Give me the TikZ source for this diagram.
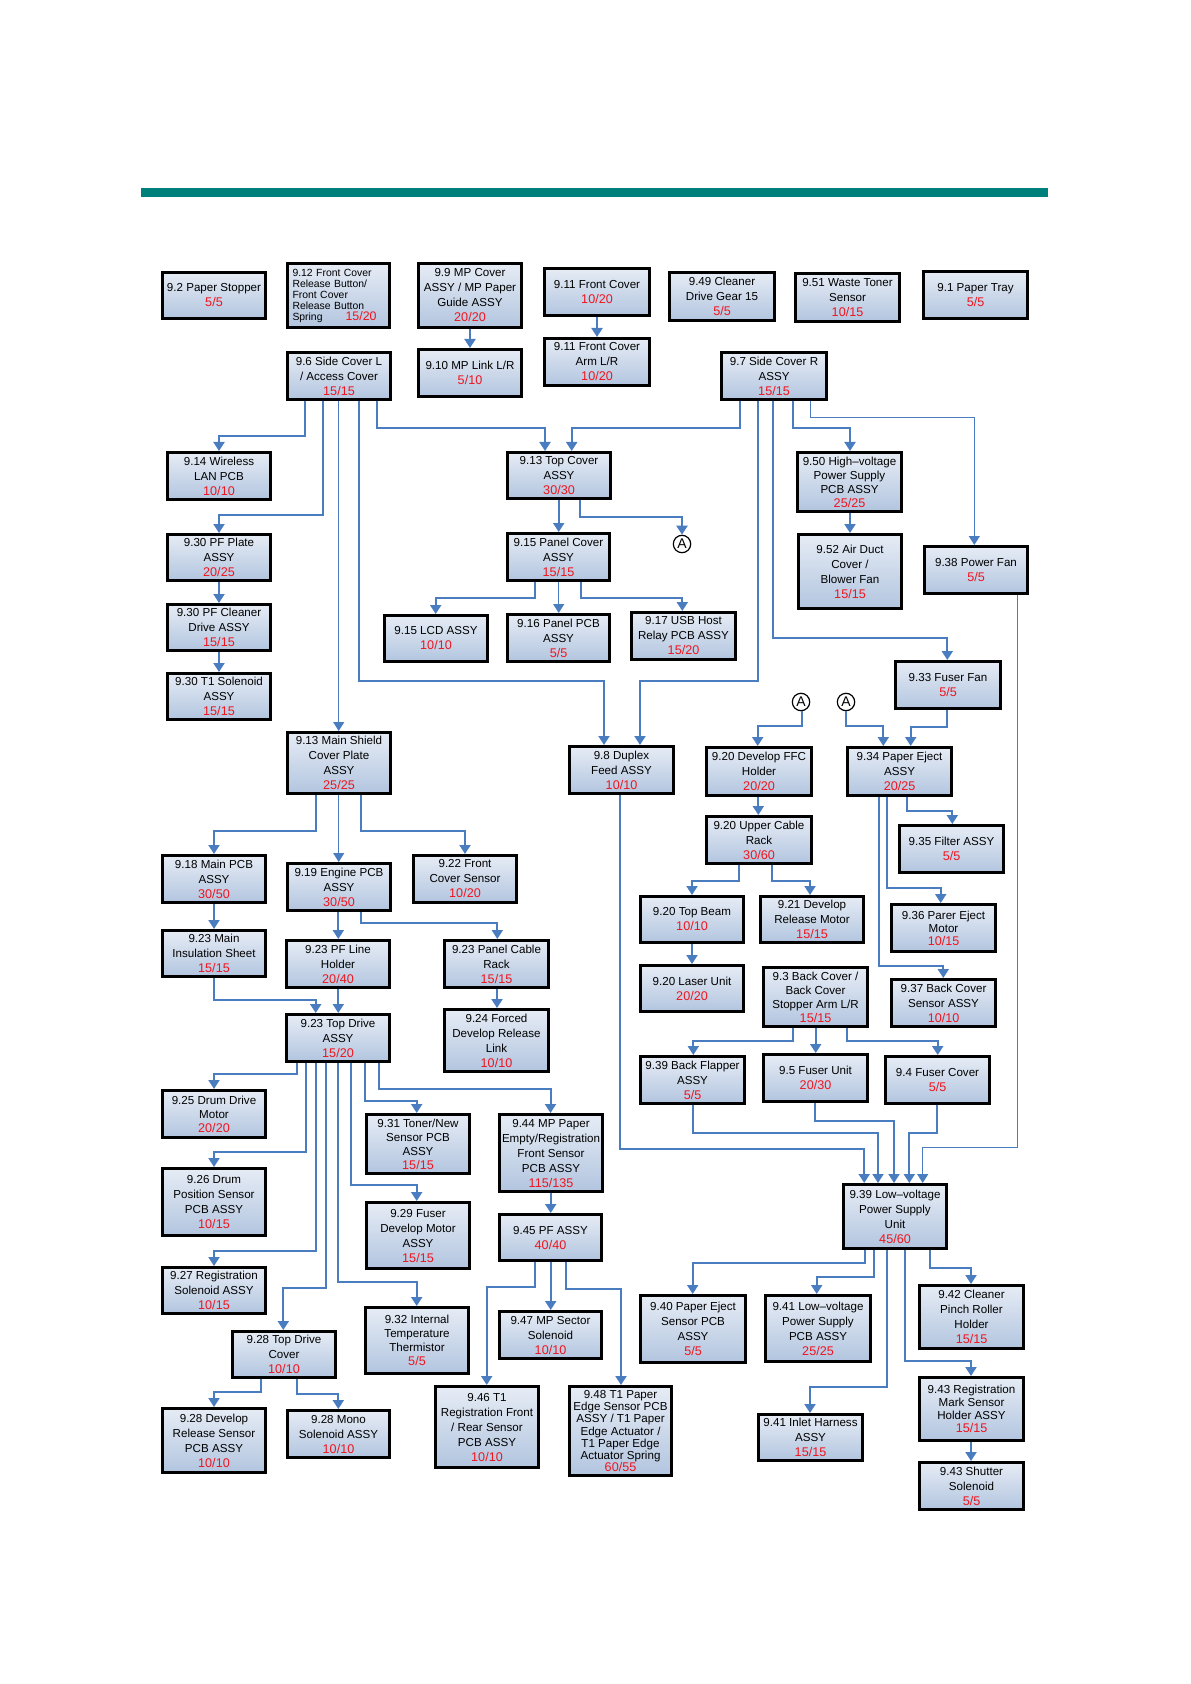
\documentclass[tikz,border=0pt]{standalone}
\usepackage{fontspec}
\setmainfont{Liberation Sans}
\usetikzlibrary{arrows.meta}
\definecolor{lineblue}{RGB}{74,124,192}
\definecolor{numred}{RGB}{240,20,30}
\definecolor{barteal}{RGB}{0,128,122}
\definecolor{boxtop}{RGB}{230,236,245}
\definecolor{boxbot}{RGB}{178,197,223}
\newcommand\abox[8][7.5]{%
  \pgfmathsetmacro\bxcx{(#3+#5)/2}%
  \pgfmathsetmacro\bxcy{(#4+#6)/2}%
  \pgfmathsetmacro\bxww{(#5-#3)*0.5-1.5}%
  \pgfmathsetmacro\bxhh{(#6-#4)*0.5-1.5}%
  \node[pbox, minimum width=\bxww pt, minimum height=\bxhh pt,
        font=\fontsize{5.8}{#1}\selectfont] (#2) at (\bxcx,\bxcy)
        {#7\\\textcolor{numred}{\fontsize{6.3}{#1}\selectfont #8}};}
\newcommand\vconn[4][]{\draw[cn,#1] (#2.south -| #3,0) -- (#4.north -| #3,0);}
\newcommand\hconn[6][]{\draw[cn,#1] (#2.south -| #3,0) |- (#5,#4) -- (#6.north -| #5,0);}
\begin{document}
\begin{tikzpicture}[x=0.5pt,y=-0.5pt,
  pbox/.style={draw=black, line width=1.5pt, top color=boxtop, bottom color=boxbot,
               inner sep=0pt, align=center, text=black},
  cn/.style={draw=lineblue, line width=1pt, -{Triangle[width=5.5pt,length=4.5pt]}},
  thinln/.style={line width=0.6pt},
  circA/.style={circle, draw=black, line width=0.6pt, minimum size=8.7pt, inner sep=0pt,
                font=\fontsize{7}{7}\selectfont}]
\useasboundingbox (0,0) rectangle (1190,1684);
\fill[barteal] (141,188) rectangle (1048,197);

% ---- boxes ----
\abox{n92}{161}{271}{267}{320}{9.2 Paper Stopper}{5/5}
\node[pbox, minimum width=51pt, minimum height=32pt, text width=46pt, align=left,
      font=\fontsize{5.2}{5.5}\selectfont] (n912) at (338.5,295.5)
  {9.12 Front Cover\\Release Button/\\Front Cover\\Release Button\\Spring\hspace{11.5pt}\textcolor{numred}{\fontsize{6.2}{5.5}\selectfont 15/20}};
\abox{n99}{417}{262}{523}{329}{9.9 MP Cover\\ASSY / MP Paper\\Guide ASSY}{20/20}
\abox{n911}{543}{267}{651}{317}{9.11 Front Cover}{10/20}
\abox{n911a}{543}{337}{651}{387}{9.11 Front Cover\\Arm L/R}{10/20}
\abox{n949}{668}{271}{776}{322}{9.49 Cleaner\\Drive Gear 15}{5/5}
\abox{n951}{794}{272}{901}{323}{9.51 Waste Toner\\Sensor}{10/15}
\abox{n91}{922}{270}{1029}{320}{9.1 Paper Tray}{5/5}
\abox{n96}{286}{351}{392}{401}{9.6 Side Cover L\\/ Access Cover}{15/15}
\abox{n910}{417}{348}{523}{398}{9.10 MP Link L/R}{5/10}
\abox{n97}{720}{351}{828}{401}{9.7 Side Cover R\\ASSY}{15/15}
\abox{n914}{166}{451}{272}{501}{9.14 Wireless\\LAN PCB}{10/10}
\abox{n913}{506}{451}{612}{500}{9.13 Top Cover\\ASSY}{30/30}
\abox[7]{n950}{796}{451}{903}{513}{9.50 High–voltage\\Power Supply\\PCB ASSY}{25/25}
\abox{n930p}{166}{533}{272}{582}{9.30 PF Plate\\ASSY}{20/25}
\abox{n915}{506}{532}{611}{582}{9.15 Panel Cover\\ASSY}{15/15}
\abox{n952}{797}{533}{903}{610}{9.52 Air Duct\\Cover /\\Blower Fan}{15/15}
\abox{n938}{923}{545}{1029}{595}{9.38 Power Fan}{5/5}
\abox{n930c}{166}{603}{272}{652}{9.30 PF Cleaner\\Drive ASSY}{15/15}
\abox{n915l}{383}{614}{489}{663}{9.15 LCD ASSY}{10/10}
\abox{n916}{506}{613}{611}{663}{9.16 Panel PCB\\ASSY}{5/5}
\abox{n917}{630}{611}{737}{661}{9.17 USB Host\\Relay PCB ASSY}{15/20}
\abox{n933}{894}{660}{1002}{710}{9.33 Fuser Fan}{5/5}
\abox{n930t}{166}{672}{272}{721}{9.30 T1 Solenoid\\ASSY}{15/15}
\abox{n913m}{286}{731}{392}{795}{9.13 Main Shield\\Cover Plate\\ASSY}{25/25}
\abox{n98}{568}{745}{675}{795}{9.8 Duplex\\Feed ASSY}{10/10}
\abox{n920f}{705}{746}{813}{797}{9.20 Develop FFC\\Holder}{20/20}
\abox{n934}{846}{746}{953}{797}{9.34 Paper Eject\\ASSY}{20/25}
\abox{n920u}{705}{815}{813}{865}{9.20 Upper Cable\\Rack}{30/60}
\abox{n935}{898}{824}{1005}{874}{9.35 Filter ASSY}{5/5}
\abox{n918}{161}{854}{267}{904}{9.18 Main PCB\\ASSY}{30/50}
\abox{n919}{286}{862}{392}{912}{9.19 Engine PCB\\ASSY}{30/50}
\abox{n922}{412}{854}{518}{904}{9.22 Front\\Cover Sensor}{10/20}
\abox{n920b}{639}{895}{745}{944}{9.20 Top Beam}{10/10}
\abox{n921}{759}{895}{865}{944}{9.21 Develop\\Release Motor}{15/15}
\abox[6.5]{n936}{890}{903}{997}{953}{9.36 Parer Eject\\Motor}{10/15}
\abox{n923m}{161}{929}{267}{978}{9.23 Main\\Insulation Sheet}{15/15}
\abox{n923pf}{285}{939}{391}{989}{9.23 PF Line\\Holder}{20/40}
\abox{n923pc}{443}{939}{550}{989}{9.23 Panel Cable\\Rack}{15/15}
\abox{n920l}{639}{964}{745}{1013}{9.20 Laser Unit}{20/20}
\abox[7]{n93}{762}{966}{869}{1028}{9.3 Back Cover /\\Back Cover\\Stopper Arm L/R}{15/15}
\abox{n937}{890}{978}{997}{1028}{9.37 Back Cover\\Sensor ASSY}{10/10}
\abox{n923t}{285}{1013}{391}{1063}{9.23 Top Drive\\ASSY}{15/20}
\abox{n924}{443}{1008}{550}{1073}{9.24 Forced\\Develop Release\\Link}{10/10}
\abox{n939b}{639}{1055}{746}{1105}{9.39 Back Flapper\\ASSY}{5/5}
\abox{n95}{762}{1053}{869}{1103}{9.5 Fuser Unit}{20/30}
\abox{n94}{884}{1055}{991}{1105}{9.4 Fuser Cover}{5/5}
\abox[7]{n925}{161}{1089}{267}{1139}{9.25 Drum Drive\\Motor}{20/20}
\abox[7]{n931}{365}{1113}{471}{1175}{9.31 Toner/New\\Sensor PCB\\ASSY}{15/15}
\abox{n944}{498}{1113}{604}{1193}{9.44 MP Paper\\Empty/Registration\\Front Sensor\\PCB ASSY}{115/135}
\abox{n926}{161}{1167}{267}{1237}{9.26 Drum\\Position Sensor\\PCB ASSY}{10/15}
\abox{n939}{842}{1183}{948}{1250}{9.39 Low–voltage\\Power Supply\\Unit}{45/60}
\abox{n929}{365}{1201}{471}{1270}{9.29 Fuser\\Develop Motor\\ASSY}{15/15}
\abox{n945}{498}{1213}{603}{1262}{9.45 PF ASSY}{40/40}
\abox{n927}{161}{1266}{267}{1315}{9.27 Registration\\Solenoid ASSY}{10/15}
\abox{n942}{918}{1284}{1025}{1350}{9.42 Cleaner\\Pinch Roller\\Holder}{15/15}
\abox{n940}{639}{1294}{747}{1364}{9.40 Paper Eject\\Sensor PCB\\ASSY}{5/5}
\abox{n941}{764}{1294}{872}{1363}{9.41 Low–voltage\\Power Supply\\PCB ASSY}{25/25}
\abox[7]{n932}{364}{1306}{470}{1375}{9.32 Internal\\Temperature\\Thermistor}{5/5}
\abox{n947}{498}{1310}{603}{1360}{9.47 MP Sector\\Solenoid}{10/10}
\abox{n928t}{231}{1330}{337}{1379}{9.28 Top Drive\\Cover}{10/10}
\abox[6.5]{n943r}{918}{1376}{1025}{1442}{9.43 Registration\\Mark Sensor\\Holder ASSY}{15/15}
\abox{n946}{434}{1385}{540}{1469}{9.46 T1\\Registration Front\\/ Rear Sensor\\PCB ASSY}{10/10}
\abox[6.1]{n948}{568}{1385}{673}{1477}{9.48 T1 Paper\\Edge Sensor PCB\\ASSY / T1 Paper\\Edge Actuator /\\T1 Paper Edge\\Actuator Spring}{60/55}
\abox{n928d}{161}{1407}{267}{1474}{9.28 Develop\\Release Sensor\\PCB ASSY}{10/10}
\abox{n928m}{286}{1409}{391}{1459}{9.28 Mono\\Solenoid ASSY}{10/10}
\abox{n941i}{757}{1413}{864}{1462}{9.41 Inlet Harness\\ASSY}{15/15}
\abox{n943s}{918}{1461}{1025}{1511}{9.43 Shutter\\Solenoid}{5/5}

% ---- circled A markers ----
\node[circA] (cA1) at (682,544) {A};
\node[circA] (cA2) at (801,702) {A};
\node[circA] (cA3) at (846,702) {A};

% ---- connectors ----
\vconn{n99}{470}{n910}
\vconn{n911}{597}{n911a}
\hconn{n96}{305}{436}{219}{n914}
\hconn{n96}{322.7}{515}{219}{n930p}
\vconn[thinln]{n96}{338.7}{n913m}
\hconn{n96}{359}{681}{604}{n98}
\hconn{n96}{377}{428.3}{545}{n913}
\hconn{n97}{740}{428.3}{571.7}{n913}
\hconn{n97}{758}{681}{640}{n98}
\hconn{n97}{772.7}{638.3}{947.3}{n933}
\hconn{n97}{792.7}{428.3}{850}{n950}
\hconn[thinln]{n97}{810.7}{417.7}{974.3}{n938}
\vconn{n950}{850}{n952}
\vconn{n913}{558.7}{n915}
\hconn{n913}{580}{517.3}{682}{cA1}
\hconn{n915}{535}{598.3}{435.7}{n915l}
\vconn[thinln]{n915}{558.7}{n916}
\hconn{n915}{580.7}{598.3}{682.3}{n917}
\hconn{n913m}{316}{830.7}{214}{n918}
\vconn[thinln]{n913m}{338.7}{n919}
\hconn{n913m}{360.7}{830.7}{465}{n922}
\vconn{n918}{214}{n923m}
\vconn{n919}{338.3}{n923pf}
\hconn{n919}{360.7}{922.7}{497.3}{n923pc}
\vconn{n923pc}{497}{n924}
\hconn{n923m}{214}{1000}{315.7}{n923t}
\vconn{n923pf}{338.3}{n923t}
\hconn{n923t}{297.3}{1074.3}{214}{n925}
\hconn{n923t}{306}{1151.5}{214}{n926}
\hconn{n923t}{315.7}{1251.3}{214}{n927}
\hconn{n923t}{326}{1287.5}{283.3}{n928t}
\hconn{n923t}{338.3}{1281.7}{416.7}{n932}
\hconn{n923t}{350.7}{1184.5}{416.7}{n929}
\hconn{n923t}{365.3}{1101}{416.7}{n931}
\hconn{n923t}{379}{1088.5}{550.5}{n944}
\vconn{n944}{550.7}{n945}
\hconn{n945}{535}{1286.7}{486.7}{n946}
\vconn{n945}{550.7}{n947}
\hconn{n945}{566}{1288.8}{621}{n948}
\hconn{n928t}{260.7}{1392.3}{214}{n928d}
\hconn{n928t}{297.3}{1394.3}{338.3}{n928m}
\vconn{n930p}{219}{n930c}
\vconn{n930c}{219}{n930t}
\hconn{cA2}{802}{726}{757.7}{n920f}
\hconn{cA3}{846.3}{726}{883.3}{n934}
\hconn{n933}{947.3}{727.3}{910.7}{n934}
\vconn{n920f}{758.3}{n920u}
\hconn{n920u}{739}{881}{692}{n920b}
\hconn{n920u}{771.7}{881}{810}{n921}
\vconn{n920b}{692}{n920l}
\hconn{n93}{793}{1040.7}{693.3}{n939b}
\vconn{n93}{815.7}{n95}
\hconn{n93}{847}{1040.7}{937.7}{n94}
\hconn{n934}{907}{810.7}{952.3}{n935}
\hconn{n934}{887}{888.3}{940.7}{n936}
\hconn{n934}{879.3}{965.7}{943.3}{n937}
\hconn{n98}{620}{1148.5}{864.2}{n939}
\hconn{n939b}{692.7}{1132.7}{878}{n939}
\hconn{n95}{815.3}{1120.7}{894}{n939}
\hconn{n94}{937.3}{1133.3}{909.3}{n939}
\hconn[thinln]{n938}{1017.7}{1147.3}{922.7}{n939}
\hconn{n939}{865}{1262.7}{692.7}{n940}
\hconn{n939}{873.7}{1276.7}{816.7}{n941}
\hconn{n939}{886.7}{1386.7}{810}{n941i}
\hconn{n939}{904.7}{1361}{971}{n943r}
\hconn{n939}{929.7}{1267.7}{971}{n942}
\vconn{n943r}{971}{n943s}
\end{tikzpicture}
\end{document}
